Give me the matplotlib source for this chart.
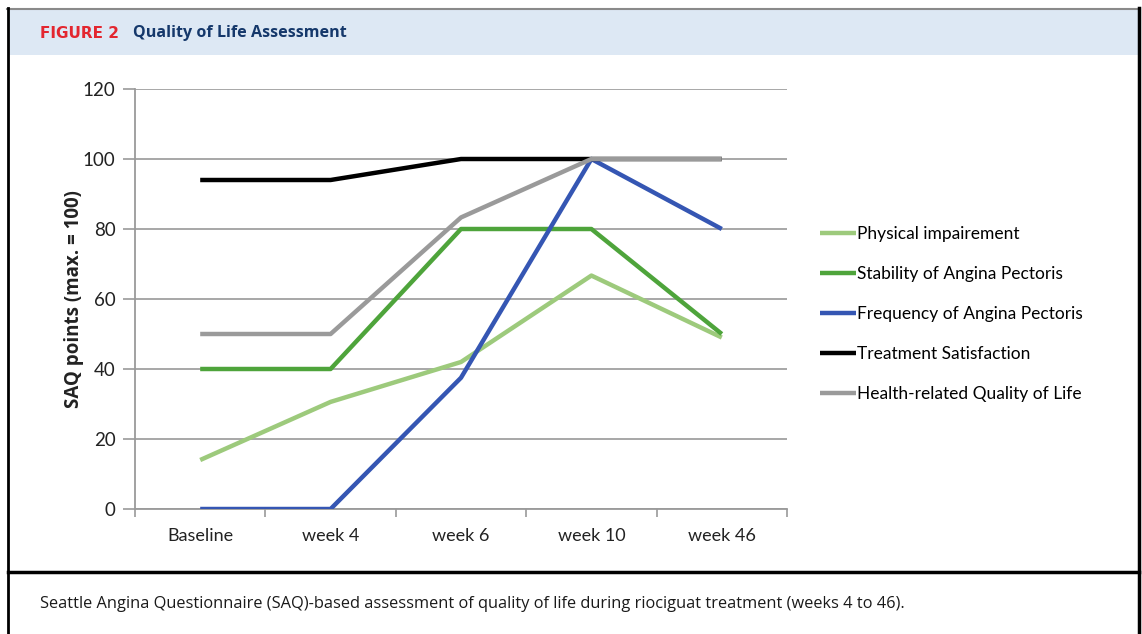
import matplotlib
matplotlib.use("Agg")
import matplotlib.pyplot as plt
from matplotlib.patches import Rectangle
from matplotlib.lines import Line2D

# Data
timepoints = ["Baseline", "week 4", "week 6", "week 10", "week 46"]
physical = [14, 30.6, 42, 66.7, 49]
stability = [40, 40, 80, 80, 50]
frequency = [0, 0, 37.5, 100, 80]
satisfaction = [94, 94, 100, 100, 100]
health_qol = [50, 50, 83.3, 100, 100]

series_names = ["Physical impairement", "Stability of Angina Pectoris",
                "Frequency of Angina Pectoris", "Treatment Satisfaction",
                "Health-related Quality of Life"]
series_values = [physical, stability, frequency, satisfaction, health_qol]
series_colors = ["#9dca7c", "#4ea43b", "#3556b3", "#000000", "#9a9a9a"]

W, H = 1142, 634
fig = plt.figure(figsize=(W / 100, H / 100), dpi=100)
fig.patch.set_facecolor("white")


def fx(px):
    return px / W


def fy(py):
    return 1 - py / H


# frame, header band and separator
fig.add_artist(Rectangle((fx(8), fy(55)), fx(1131), 47 / H, transform=fig.transFigure,
                         facecolor="#dde8f4", edgecolor="none", zorder=0))
fig.add_artist(Line2D([fx(7), fx(1140)], [fy(8.5), fy(8.5)], transform=fig.transFigure,
                      color="#8a8a8a", lw=1.5))
fig.add_artist(Line2D([fx(8), fx(8)], [fy(8), 0], transform=fig.transFigure,
                      color="black", lw=2))
fig.add_artist(Line2D([fx(1139), fx(1139)], [fy(8), 0], transform=fig.transFigure,
                      color="black", lw=2.5))
fig.add_artist(Line2D([fx(8), fx(1139)], [fy(572), fy(572)], transform=fig.transFigure,
                      color="black", lw=2.5))

fig.text(fx(40), fy(33), "FIGURE 2", color="#e3262f", fontsize=11, fontweight="bold",
         family="DejaVu Sans", va="center", ha="left")
fig.text(fx(133), fy(33), "Quality of Life Assessment", color="#15386b", fontsize=11.6,
         fontweight="bold", family="Open Sans", va="center", ha="left")
fig.text(fx(40), fy(604), "Seattle Angina Questionnaire (SAQ)-based assessment of quality of life "
         "during riociguat treatment (weeks 4 to 46).", color="#1a1a1a", fontsize=11.8,
         family="Open Sans", va="center", ha="left")

ax = fig.add_axes([fx(135), fy(509), fx(787) - fx(135), fy(89) - fy(509)])
x = range(len(timepoints))
for name, vals, col in zip(series_names, series_values, series_colors):
    ax.plot(x, vals, color=col, lw=3.2, label=name, solid_capstyle="butt", zorder=3)

ax.set_xlim(-0.5, len(timepoints) - 0.5)
ax.set_ylim(0, 120)
ax.set_yticks(range(0, 121, 20))
ax.set_xticks(list(x))
ax.set_xticklabels(timepoints)
ax.set_xticks([i + 0.5 for i in range(-1, len(timepoints))], minor=True)
ax.tick_params(axis="x", which="major", length=0, pad=14, labelsize=13)
ax.tick_params(axis="x", which="minor", length=6, width=1.2, color="#9a9a9a", direction="out")
ax.tick_params(axis="y", length=9, width=1.2, color="#9a9a9a", pad=5, labelsize=13.5)
for lab in ax.get_xticklabels() + ax.get_yticklabels():
    lab.set_family("Lato")
    lab.set_color("#222222")
ax.grid(axis="y", color="#a0a0a0", lw=1.3)
ax.set_axisbelow(True)
for s in ["top", "right"]:
    ax.spines[s].set_visible(False)
for s in ["left", "bottom"]:
    ax.spines[s].set_color("#9a9a9a")
    ax.spines[s].set_linewidth(1.3)
ax.set_ylabel("SAQ points (max. = 100)", fontsize=13.5, fontweight="bold", family="Open Sans",
              labelpad=-1, color="#222222")

ax_h = fy(89) - fy(509)
leg = ax.legend(loc="center left",
                bbox_to_anchor=(fx(813 - 135) / (fx(787) - fx(135)), (fy(314) - fy(509)) / ax_h),
                frameon=False, handlelength=2.1, handletextpad=0.05, labelspacing=1.38,
                prop={"family": "Lato", "size": 12.5}, borderaxespad=0)

fig.savefig("out.png", dpi=100)
